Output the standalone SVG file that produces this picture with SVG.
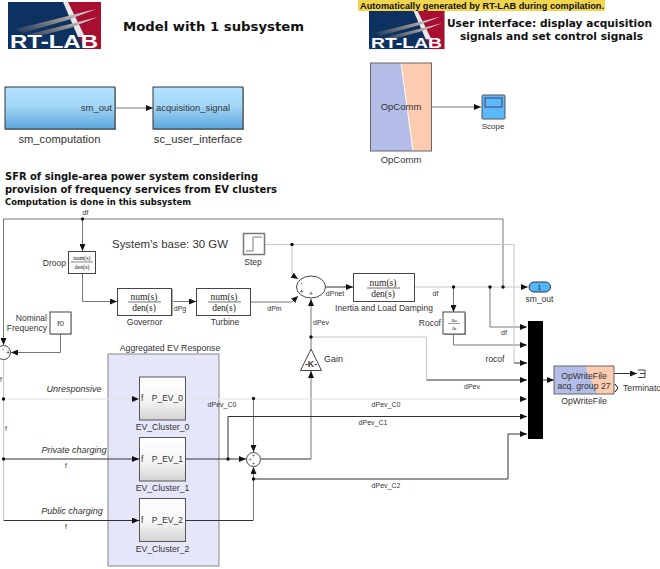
<svg xmlns="http://www.w3.org/2000/svg" width="660" height="569" viewBox="0 0 660 569">
<style>
text{font-family:"Liberation Sans",Arial,sans-serif;fill:#333}
.v{font-family:"DejaVu Sans",Verdana,sans-serif;font-weight:700;fill:#111}
.l{font-size:11.2px}
.s{font-size:8.700px}
.xs{font-size:7px}
.n{font-size:8.500px}
.m{text-anchor:middle}
.e{text-anchor:end}
.i{font-style:italic;font-size:9px}
.f{font-family:"Liberation Serif","Times New Roman",serif;text-anchor:middle;fill:#222}
.b{fill:#fff;stroke:#444;stroke-width:1}
.c path{fill:none;stroke-width:1}
.d path{stroke:#333}.g path{stroke:#777}.t path{stroke:#c8c8c8}.u path{stroke:#e2e2e2}
.sh{fill:#aaa}
</style>
<defs>
<marker id="a" markerWidth="8" markerHeight="6" refX="7" refY="3" orient="auto" markerUnits="userSpaceOnUse"><path d="M0 0L7 3L0 6Z" fill="#111"/></marker>
<linearGradient id="blue" x1="0" y1="0" x2="0" y2="1"><stop offset="0" stop-color="#b2e2ff"/><stop offset=".45" stop-color="#a4d8f8"/><stop offset="1" stop-color="#5ba6da"/></linearGradient>
<linearGradient id="gray" x1="0" y1="0" x2="0" y2="1"><stop offset="0" stop-color="#fff"/><stop offset=".55" stop-color="#f6f6f6"/><stop offset="1" stop-color="#d2d2d2"/></linearGradient>
<linearGradient id="sw" x1="0" y1="1" x2="1" y2="0"><stop offset="0" stop-color="#1d3557"/><stop offset=".5" stop-color="#888"/><stop offset="1" stop-color="#eee"/></linearGradient>
<g id="logoArt">
<rect width="93" height="47" fill="#0d3160"/>
<path d="M56 0H93V47H76Z" fill="#a80f30"/>
<path d="M55 0H60L77 35H70Z" fill="#e8e8e8"/>
<path d="M8 27L88 7L60 18L14 31Z" fill="url(#sw)"/>
<path d="M18 33L90 15L62 26L24 36Z" fill="url(#sw)"/>
</g>
</defs>
<rect width="660" height="569" fill="#fff"/>

<g id="logo-left"><use href="#logoArt" x="8" y="2"/><text x="10" y="47.500" font-size="19" font-weight="700" textLength="88" lengthAdjust="spacingAndGlyphs" style="fill:#fff">RT-LAB</text></g>
<g id="title-left"><text class="v" x="123" y="31" font-size="13" textLength="181" lengthAdjust="spacingAndGlyphs">Model with 1 subsystem</text></g>
<g id="banner"><rect x="358" y="0" width="247" height="11" fill="#f1d54e"/><text x="360" y="9" font-size="9" font-weight="700" textLength="244" lengthAdjust="spacingAndGlyphs" style="fill:#111">Automatically generated by RT-LAB during compilation.</text></g>
<g id="logo-right"><use href="#logoArt" transform="translate(369 11) scale(.81)"/><text x="371" y="48" font-size="15.500" font-weight="700" textLength="71" lengthAdjust="spacingAndGlyphs" style="fill:#fff">RT-LAB</text></g>
<g id="title-right"><text class="v" x="447" y="27" font-size="11" textLength="205" lengthAdjust="spacingAndGlyphs">User interface: display acquisition</text><text class="v" x="460" y="40" font-size="11" textLength="183" lengthAdjust="spacingAndGlyphs">signals and set control signals</text></g>
<g id="title-sfr"><text class="v" x="5" y="180" font-size="10" textLength="253" lengthAdjust="spacingAndGlyphs">SFR of single-area power system considering</text><text class="v" x="5" y="193" font-size="10" textLength="272" lengthAdjust="spacingAndGlyphs">provision of frequency services from EV clusters</text><text class="v" x="5" y="205" font-size="8.500" textLength="186" lengthAdjust="spacingAndGlyphs">Computation is done in this subsystem</text></g>
<g id="base-note"><text x="112" y="248" font-size="11.500" textLength="116" lengthAdjust="spacingAndGlyphs">System's base: 30 GW</text></g>

<g id="panel-ev"><rect x="108" y="354" width="111" height="212" fill="#e6e6fb" stroke="#888"/><text class="s m" x="170" y="351">Aggregated EV Response</text></g>

<g id="connectors" class="c">
<g class="g">
<path d="M115 108H153" marker-end="url(#a)"/>
<path d="M431 107H481" marker-end="url(#a)"/>
<path d="M3.500 345V219H503V287"/>
<path d="M3.500 336V345" marker-end="url(#a)"/>
<path d="M82.500 219V251" marker-end="url(#a)"/>
<path d="M82.500 273V301.500H117" marker-end="url(#a)"/>
<path d="M172 301.500H196" marker-end="url(#a)"/>
<path d="M250 302H292L298 296" marker-end="url(#a)"/>
<path d="M60.500 334V352.500H11" marker-end="url(#a)"/>
<path d="M490 287V327H527" marker-end="url(#a)"/>
<path d="M453.500 287V312" marker-end="url(#a)"/>
<path d="M453.500 334V345H527" marker-end="url(#a)"/>
<path d="M311 337V299" marker-end="url(#a)"/>
<path d="M311 349V337"/>
<path d="M253.500 398V452" marker-end="url(#a)"/>
<path d="M253.500 520V467" marker-end="url(#a)"/>
<path d="M311 459V371" marker-end="url(#a)"/>
</g>
<g class="t">
<path d="M264 244.500H514V363"/>
<path d="M292 244.500V275L298 279" marker-end="url(#a)"/>
<path d="M414 287H528" marker-end="url(#a)"/>
<path d="M311 337H426.500V380"/>
<path d="M3.500 360V520"/>
</g>
<g class="u">
<path d="M3.500 399H139" marker-end="url(#a)"/>
<path d="M185 399H527" marker-end="url(#a)"/>
</g>
<g class="d">
<path d="M514 363H527" marker-end="url(#a)"/>
<path d="M426.500 380H527" marker-end="url(#a)"/>
<path d="M3.500 459H139" marker-end="url(#a)"/>
<path d="M3.500 520.500H139" marker-end="url(#a)"/>
<path d="M185 459H246" marker-end="url(#a)"/>
<path d="M228 459V416.500H527" marker-end="url(#a)"/>
<path d="M261 459H311"/>
<path d="M185 520.500H253.500"/>
<path d="M253.500 479H508V434H527" marker-end="url(#a)"/>
<path d="M325 287H353" marker-end="url(#a)"/>
<path d="M543 380H554" marker-end="url(#a)"/>
<path d="M614 373.500H637" marker-end="url(#a)"/>
</g>
<g id="junctions" fill="#111">
<circle cx="82.500" cy="219" r="1.700"/><circle cx="292" cy="244.500" r="1.700"/><circle cx="453.500" cy="287" r="1.700"/><circle cx="490" cy="287" r="1.700"/><circle cx="503" cy="287" r="1.700"/><circle cx="311" cy="337" r="1.700"/><circle cx="3.500" cy="399" r="1.700"/><circle cx="3.500" cy="459" r="1.700"/><circle cx="253.500" cy="398.500" r="1.700"/><circle cx="228" cy="459" r="1.700"/><circle cx="253.500" cy="479" r="1.700"/>
</g>
</g>

<g id="sm_computation"><rect x="6" y="88" width="110" height="42" class="sh"/><rect x="5" y="87" width="110" height="42" fill="url(#blue)" stroke="#333"/><text class="e" x="112" y="111" font-size="9.500">sm_out</text><text class="l m" x="59.500" y="143">sm_computation</text></g>
<g id="sc_user_interface"><rect x="154" y="88" width="90" height="42" class="sh"/><rect x="153" y="87" width="90" height="42" fill="url(#blue)" stroke="#333"/><text x="156" y="111" font-size="9.400">acquisition_signal</text><text class="l m" x="198" y="143">sc_user_interface</text></g>
<g id="OpComm"><path d="M370 63H431V151H370Z" fill="#b4bde8"/><path d="M401 63H431V151H413Z" fill="#fdcbb0"/><path d="M401 63L413 151" stroke="#fff"/><rect x="370.500" y="63" width="61" height="88" fill="none" stroke="#666"/><text class="m" x="401" y="110" font-size="9.500">OpComm</text><text class="m" x="401" y="163" font-size="9.500">OpComm</text></g>
<g id="Scope"><rect x="482" y="95" width="23" height="24" rx="1" fill="#5cb8ff" stroke="#555"/><rect x="485" y="98" width="17" height="9" fill="none" stroke="#445"/><text class="m" x="493" y="129" font-size="8">Scope</text></g>
<g id="Droop"><rect x="69" y="252" width="27" height="22" class="sh"/><rect x="68.500" y="251.500" width="27" height="22" class="b"/><text class="f" x="82" y="260" font-size="6">num(s)</text><path d="M71 262H93" stroke="#333" stroke-width=".6"/><text class="f" x="82" y="268.500" font-size="6">den(s)</text><text class="e" x="66" y="266" font-size="8.500">Droop</text></g>
<g id="Governor"><rect x="118" y="289" width="55" height="27" class="sh"/><rect x="117.500" y="288.500" width="54" height="27" class="b"/><text class="f" x="144" y="300" font-size="9.500">num(s)</text><path d="M128 302H161" stroke="#333" stroke-width=".7"/><text class="f" x="144" y="311" font-size="9.500">den(s)</text><text class="m n" x="144.500" y="325">Governor</text></g>
<g id="Turbine"><rect x="197" y="289" width="54" height="27" class="sh"/><rect x="196.500" y="288.500" width="54" height="27" class="b"/><text class="f" x="224" y="300" font-size="9.500">num(s)</text><path d="M208 302H241" stroke="#333" stroke-width=".7"/><text class="f" x="224" y="311" font-size="9.500">den(s)</text><text class="m n" x="225" y="325">Turbine</text></g>
<g id="Inertia"><rect x="354" y="274" width="61" height="28" class="sh"/><rect x="353.500" y="273.500" width="61" height="28" class="b"/><text class="f" x="383" y="286" font-size="9.500">num(s)</text><path d="M367 288H400" stroke="#333" stroke-width=".7"/><text class="f" x="383" y="297" font-size="9.500">den(s)</text><text class="m n" x="384" y="311">Inertia and Load Damping</text></g>
<g id="Step"><rect x="243.500" y="233.500" width="21" height="21" fill="#fff" stroke="#777" stroke-width="1.500"/><path d="M246 251H253V237H262" fill="none" stroke="#444" stroke-width=".7"/><text class="m n" x="253" y="265">Step</text></g>
<g id="Sum-main"><ellipse cx="311" cy="287" rx="14.500" ry="11" fill="#fff" stroke="#444"/><text class="xs m" x="301.500" y="285">-</text><text class="xs m" x="301.500" y="294">+</text><text class="xs m" x="311" y="296">+</text></g>
<g id="Gain"><path d="M311 349L321.500 370.500H300.500Z" fill="#fff" stroke="#444"/><text class="s m" x="311" y="367" font-weight="700">-K-</text><text x="324" y="362" font-size="9">Gain</text></g>
<g id="Rocof"><rect x="444" y="313" width="22" height="22" class="sh"/><rect x="443" y="312" width="22" height="22" class="b"/><text class="f" x="454" y="322" font-size="5">Δu</text><path d="M448 323.500H460" stroke="#333" stroke-width=".5"/><text class="f" x="454" y="330" font-size="5">Δt</text><text class="e" x="441" y="326" font-size="8.500">Rocof</text></g>
<g id="sm_out"><rect x="529" y="282" width="21.500" height="10" rx="5" fill="#52b6ff" stroke="#333"/><text class="m" x="539.500" y="290" font-size="8">1</text><text class="m n" x="539.500" y="302">sm_out</text></g>
<g id="Mux"><rect x="528" y="321" width="15" height="118" fill="#000"/></g>
<g id="OpWriteFile"><path d="M554 366H614V394H554Z" fill="#b4bde8"/><path d="M585 366H614V394H597Z" fill="#fdcbb0"/><rect x="554" y="366" width="60" height="28" fill="none" stroke="#666"/><text class="m s" x="584" y="379">OpWriteFile</text><text class="m s" x="584" y="389">acq. group 27</text><path d="M615 384L618 388L615 392" fill="none" stroke="#111"/><text class="m s" x="584" y="404">OpWriteFile</text></g>
<g id="Terminator"><path d="M638 370H645V377.500H638M640 373.500H645" fill="none" stroke="#444"/><text x="623" y="391" font-size="8.700">Terminator</text></g>
<g id="f0"><rect x="50.500" y="312.500" width="21" height="22" class="sh"/><rect x="50" y="312" width="21" height="22" class="b"/><text class="m" x="60.500" y="326" font-size="8">f0</text><text class="e" x="47" y="321" font-size="8.500">Nominal</text><text class="e" x="47" y="331" font-size="8.500">Frequency</text></g>
<g id="Sum-left"><circle cx="3.500" cy="352.500" r="7" fill="#fff" stroke="#444"/><text class="xs m" x="3" y="351">-</text><text class="xs m" x="8" y="355">+</text></g>
<g id="Sum-ev"><circle cx="253.500" cy="459.500" r="7" fill="#fff" stroke="#444"/><text class="m" x="253.500" y="457" font-size="5">+</text><text class="m" x="250" y="461" font-size="5">+</text><text class="m" x="253.500" y="465" font-size="5">+</text></g>
<g id="EV_Cluster_0"><rect x="139.500" y="377" width="46" height="43" fill="url(#gray)" stroke="#555"/><text class="n" x="141" y="401">f</text><text class="n e" x="183" y="401">P_EV_0</text><text class="m s" x="162.500" y="430">EV_Cluster_0</text></g>
<g id="EV_Cluster_1"><rect x="139.500" y="437.500" width="46" height="43.500" fill="url(#gray)" stroke="#555"/><text class="n" x="141" y="461.500">f</text><text class="n e" x="183" y="461.500">P_EV_1</text><text class="m s" x="162.500" y="491">EV_Cluster_1</text></g>
<g id="EV_Cluster_2"><rect x="139.500" y="498.500" width="46" height="43" fill="url(#gray)" stroke="#555"/><text class="n" x="141" y="522.500">f</text><text class="n e" x="183" y="522.500">P_EV_2</text><text class="m s" x="162.500" y="552">EV_Cluster_2</text></g>

<g id="labels">
<text class="xs m" x="85.500" y="215">df</text><text class="xs m" x="180" y="310.500">dPg</text><text class="xs m" x="274.500" y="310.500">dPm</text><text class="xs m" x="335" y="296">dPnet</text><text class="xs m" x="321" y="325">dPev</text><text class="xs m" x="435.500" y="295.500">df</text><text class="xs m" x="504" y="335">df</text><text class="m" x="495" y="362" font-size="8.500">rocof</text><text class="xs m" x="472" y="389">dPev</text>
<text class="xs m" x="222" y="407">dPev_C0</text><text class="xs m" x="386" y="407">dPev_C0</text><text class="xs m" x="373" y="425">dPev_C1</text><text class="xs m" x="386" y="488">dPev_C2</text>
<text class="i m" x="74" y="392">Unresponsive</text><text class="i m" x="74" y="453">Private charging</text><text class="i m" x="72" y="514">Public charging</text>
<text class="xs m" x="66" y="468">f</text><text class="xs m" x="66" y="529">f</text><text class="xs m" x="6" y="431">f</text><text class="xs m" x="1" y="382">f</text>
</g>
</svg>
